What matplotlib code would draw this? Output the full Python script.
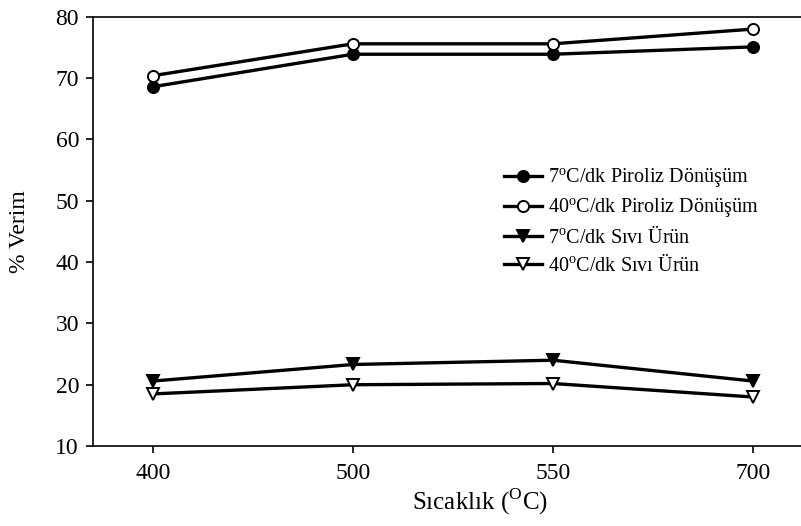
import numpy as np
import matplotlib.pyplot as plt

plt.rcParams['font.family'] = ['Liberation Serif', 'DejaVu Serif']
plt.rcParams['mathtext.fontset'] = 'custom'
plt.rcParams['mathtext.rm'] = 'Liberation Serif'

# Datos
sicaklik = ['400', '500', '550', '700']
piroliz_7 = [68.6, 73.9, 73.9, 75.1]
piroliz_40 = [70.4, 75.6, 75.6, 78.0]
sivi_7 = [20.6, 23.3, 24.0, 20.6]
sivi_40 = [18.5, 20.0, 20.2, 18.0]

fig = plt.figure(figsize=(8.01, 5.26), dpi=100)
ax = fig.add_axes((0.116, 0.152, 0.884, 0.816))

x = np.arange(len(sicaklik))
kw = dict(color='black', lw=2.4, markersize=8, markeredgewidth=1.4)
ax.plot(x, piroliz_7, marker='o', markerfacecolor='black',
        label='7$^{\\mathrm{o}}$C/dk Piroliz Dönüşüm', **kw)
ax.plot(x, piroliz_40, marker='o', markerfacecolor='white',
        label='40$^{\\mathrm{o}}$C/dk Piroliz Dönüşüm', **kw)
ax.plot(x, sivi_7, marker='v', markerfacecolor='black',
        label='7$^{\\mathrm{o}}$C/dk Sıvı Ürün', **kw)
ax.plot(x, sivi_40, marker='v', markerfacecolor='white',
        label='40$^{\\mathrm{o}}$C/dk Sıvı Ürün', **kw)

ax.set_xticks(x)
ax.set_xticklabels(sicaklik)
ax.set_xlim(-0.30, 3.24)
ax.set_ylim(10, 80)
ax.set_yticks(range(10, 81, 10))

ax.spines['right'].set_visible(False)
for s in ['left', 'top', 'bottom']:
    ax.spines[s].set_linewidth(1.2)
ax.tick_params(direction='out', length=5, width=1.2, labelsize=17)
ax.tick_params(axis='x', pad=7)
ax.tick_params(axis='y', pad=5)

ax.set_xlabel('Sıcaklık ($^{\\mathrm{O}}$C)', fontsize=18, labelpad=0)
ax.xaxis.set_label_coords(0.547, -0.095)
ax.set_ylabel('% Verim', fontsize=17, labelpad=18)

ax.legend(loc='upper left', bbox_to_anchor=(0.566, 0.675), frameon=False,
          fontsize=14.5, handlelength=1.9, handletextpad=0.3,
          labelspacing=0.3, borderpad=0)

fig.savefig('out.png', dpi=100)
